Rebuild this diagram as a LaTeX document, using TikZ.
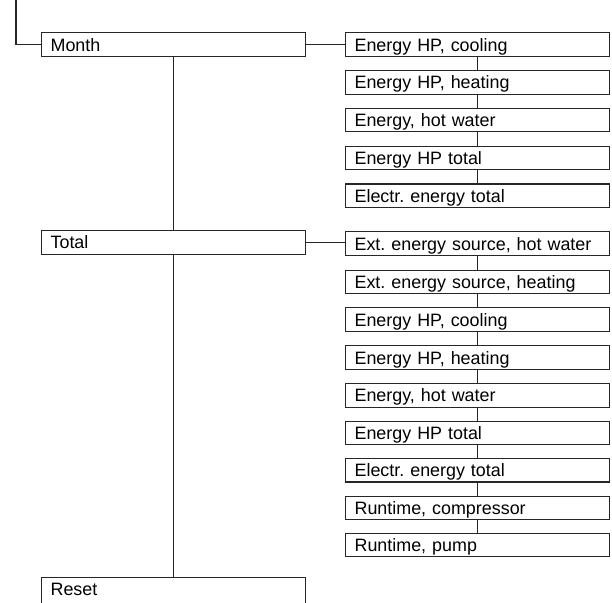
\documentclass[tikz,border=0pt]{standalone}
\usepackage{fontspec}
\setmainfont{Liberation Sans}
\frenchspacing
\begin{document}
\begin{tikzpicture}[x=1pt,y=1pt,
  line/.style={draw=black!85, line width=1.2pt},
  box/.style={line, rectangle, fill=white, minimum width=264pt, minimum height=23.5pt,
    inner xsep=9pt, inner ysep=0pt, text width=246pt, align=left,
    text height=13.2pt, text depth=0pt, anchor=north west,
    font=\fontsize{17.9}{20}\selectfont\frenchspacing, text=black}]
\clip (0,0) rectangle (612,-602);
% left column
\node[box] (month) at (41,-32.3) {Month};
\node[box] (total) at (41,-230) {Total};
\node[box, text depth=10pt, minimum height=33.5pt] (reset) at (41,-577) {Reset};
\coordinate (top) at (16,0);
% month submenu
\node[box] (m1) at (345,-32.3) {Energy HP, cooling};
\node[box] (m2) at (345,-70.0) {Energy HP, heating};
\node[box] (m3) at (345,-107.6) {Energy, hot water};
\node[box] (m4) at (345,-145.5) {Energy HP total};
\node[box] (m5) at (345,-183.3) {Electr. energy total};
% total submenu
\node[box] (t1) at (345,-231.2) {Ext. energy source, hot water};
\node[box] (t2) at (345,-269.5) {Ext. energy source, heating};
\node[box] (t3) at (345,-307.2) {Energy HP, cooling};
\node[box] (t4) at (345,-345.2) {Energy HP, heating};
\node[box] (t5) at (345,-383.0) {Energy, hot water};
\node[box] (t6) at (345,-420.6) {Energy HP total};
\node[box] (t7) at (345,-457.8) {Electr. energy total};
\node[box] (t8) at (345,-495.6) {Runtime, compressor};
\node[box] (t9) at (345,-532.6) {Runtime, pump};
% connectors
\draw[line] (top) |- (month.west);
\draw[line] (month.south) -- (total.north);
\draw[line] (total.south) -- (reset.north);
\draw[line] (month.east) -- (m1.west);
\draw[line] (total.east) -- (total.east -| t1.west);
\draw[line] (m1.south) -- (m2.north);
\draw[line] (m2.south) -- (m3.north);
\draw[line] (m3.south) -- (m4.north);
\draw[line] (m4.south) -- (m5.north);
\draw[line] (t1.south) -- (t2.north);
\draw[line] (t2.south) -- (t3.north);
\draw[line] (t3.south) -- (t4.north);
\draw[line] (t4.south) -- (t5.north);
\draw[line] (t5.south) -- (t6.north);
\draw[line] (t6.south) -- (t7.north);
\draw[line] (t7.south) -- (t8.north);
\draw[line] (t8.south) -- (t9.north);
\end{tikzpicture}
\end{document}
